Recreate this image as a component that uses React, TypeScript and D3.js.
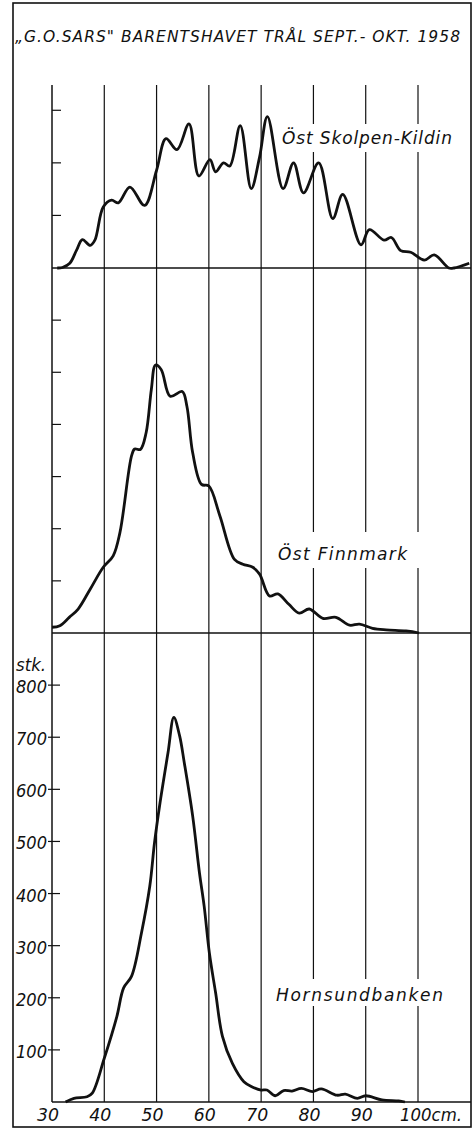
import * as d3 from "d3";
import React from "react";

// length classes (cm) and counts (stk.)
const skolpenCm = [31, 32, 33.4, 34.7, 35.8, 37.3, 38.2, 39.8, 41.4, 42.7, 44.9, 47.7, 50.0, 51.8, 53.9, 56.2, 58.1, 60.2, 61.3, 62.8, 64.0, 66.0, 68.1, 69.7, 71.2, 74.2, 76.2, 78.1, 81.0, 83.7, 85.6, 89.1, 90.7, 93.5, 94.9, 96.7, 98.6, 101.2, 103.1, 105.9, 106.9, 109.8];
const skolpenStk = [0, 1, 9, 34, 54, 43, 53, 116, 129, 124, 154, 119, 186, 246, 225, 274, 175, 206, 183, 200, 194, 271, 151, 211, 288, 151, 200, 143, 200, 94, 140, 44, 73, 53, 58, 33, 30, 15, 25, 0, 0, 9];

const finnmarkCm = [30, 31.5, 33.3, 35.0, 37.3, 39.8, 41.7, 43.0, 45.2, 45.8, 46.9, 48.0, 49.0, 49.8, 50.9, 52.6, 54.9, 55.8, 56.9, 58.6, 60.0, 62.1, 64.9, 66.5, 68.4, 69.7, 71.6, 73.2, 75.3, 77.3, 79.2, 81.8, 84.3, 86.9, 88.8, 91.3, 93.9, 97.7, 100.2];
const finnmarkStk = [11, 14, 30, 46, 84, 126, 148, 193, 339, 353, 352, 384, 467, 514, 505, 454, 463, 435, 346, 285, 282, 225, 141, 132, 126, 113, 71, 75, 55, 38, 46, 28, 30, 15, 17, 9, 6, 4, 0];

const hornsundCm = [32.6, 34.2, 36.7, 37.7, 40.0, 42.4, 43.7, 45.2, 47.1, 48.7, 49.6, 50.6, 52.2, 53.3, 54.4, 55.3, 56.9, 58.2, 59.1, 60.1, 61.3, 62.6, 64.5, 66.7, 68.3, 70.0, 71.1, 72.7, 74.3, 75.9, 77.7, 79.8, 81.5, 84.5, 86.1, 88.4, 90.0, 93.1, 96.3, 97.5];
const hornsundStk = [0, 7, 10, 17, 84, 164, 219, 241, 324, 414, 497, 570, 671, 738, 703, 651, 549, 440, 376, 286, 209, 126, 74, 39, 29, 23, 23, 12, 22, 21, 26, 20, 25, 13, 15, 7, 12, 4, 2, 0];

const gridCm = [40, 50, 60, 70, 80, 90, 100];
const xTickLabels = ["30", "40", "50", "60", "70", "80", "90"];
const xTickValues = [30, 40, 50, 60, 70, 80, 90];
const topTicks = [100, 200, 300];
const midTicks = [100, 200, 300, 400, 500, 600];
const botTicks = [100, 200, 300, 400, 500, 600, 700, 800];

const title = "\u201eG.O.SARS\" BARENTSHAVET TR\u00c5L SEPT.- OKT. 1958";
const font = "'DejaVu Sans', sans-serif";
const ink = "#111";

export default function App() {
  const W = 472;
  const H = 1128;
  const x = d3.scaleLinear().domain([30, 100]).range([52, 418]);
  const right = 471;

  const yTop = d3.scaleLinear().domain([0, 350]).range([268, 84]);
  const yMid = d3.scaleLinear().domain([0, 700]).range([633, 268]);
  const yBot = d3.scaleLinear().domain([0, 900]).range([1102, 633]);

  const mkLine = (y: d3.ScaleLinear<number, number>) =>
    d3.line<[number, number]>()
      .x(d => x(d[0]))
      .y(d => y(d[1]))
      .curve(d3.curveCatmullRom.alpha(0.5));

  const topPath = mkLine(yTop)(d3.zip(skolpenCm, skolpenStk) as [number, number][]);
  const midPath = mkLine(yMid)(d3.zip(finnmarkCm, finnmarkStk) as [number, number][]);
  const botPath = mkLine(yBot)(d3.zip(hornsundCm, hornsundStk) as [number, number][]);

  // white boxes behind the panel names (they cut the grid lines)
  const labels = [
    { text: "\u00d6st Skolpen-Kildin", x: 282, y: 144, len: 170, box: [278, 124, 180, 28] },
    { text: "\u00d6st Finnmark", x: 278, y: 560, len: 129, box: [270, 532, 154, 36] },
    { text: "Hornsundbanken", x: 276, y: 1001, len: 167, box: [270, 979, 178, 27] },
  ];

  return (
    <svg width={W} height={H} style={{ position: "absolute", left: 0, top: 0, background: "#fff" }}>
      <rect x={0} y={0} width={W} height={H} fill="#fff" />
      {/* outer frame */}
      <rect x={13} y={3} width={right - 13} height={1127 - 3} fill="none" stroke={ink} strokeWidth={1.6} />

      <text x={15} y={42} fontFamily={font} fontStyle="italic" fontSize={15.5} fill={ink}
        textLength={445} lengthAdjust="spacing">{title}</text>

      {/* vertical grid lines */}
      <line x1={x(30)} x2={x(30)} y1={85} y2={1102} stroke={ink} strokeWidth={1.5} />
      {gridCm.map(c => (
        <line key={c} x1={x(c)} x2={x(c)} y1={85} y2={1102} stroke={ink} strokeWidth={1.2} />
      ))}

      {/* panel baselines */}
      {[yTop(0), yMid(0), yBot(0)].map((b, i) => (
        <line key={i} x1={x(30)} x2={right} y1={b} y2={b} stroke={ink} strokeWidth={1.5} />
      ))}

      {/* y ticks */}
      {topTicks.map(t => (
        <line key={"t" + t} x1={x(30)} x2={x(30) + 9} y1={yTop(t)} y2={yTop(t)} stroke={ink} strokeWidth={1.2} />
      ))}
      {midTicks.map(t => (
        <line key={"m" + t} x1={x(30)} x2={x(30) + 9} y1={yMid(t)} y2={yMid(t)} stroke={ink} strokeWidth={1.2} />
      ))}
      {botTicks.map(t => (
        <g key={"b" + t}>
          <line x1={x(30) - 4} x2={x(30) + 8} y1={yBot(t)} y2={yBot(t)} stroke={ink} strokeWidth={1.2} />
          <text x={16} y={yBot(t) + 8} fontFamily={font} fontStyle="italic"
            fontSize={18} fill={ink} textLength={31} lengthAdjust="spacingAndGlyphs">{t}</text>
        </g>
      ))}
      <text x={16} y={671} fontFamily={font} fontStyle="italic" fontSize={17} fill={ink}
        textLength={30} lengthAdjust="spacingAndGlyphs">stk.</text>

      {/* x labels */}
      {xTickValues.map((v, i) => (
        <text key={v} x={x(v) - 4} y={1121} textAnchor="middle" fontFamily={font} fontStyle="italic"
          fontSize={17} fill={ink} textLength={22} lengthAdjust="spacingAndGlyphs">{xTickLabels[i]}</text>
      ))}
      <text x={400} y={1121} fontFamily={font} fontStyle="italic" fontSize={17} fill={ink}
        textLength={62} lengthAdjust="spacingAndGlyphs">100cm.</text>

      {/* panel names */}
      {labels.map(l => (
        <g key={l.text}>
          <rect x={l.box[0]} y={l.box[1]} width={l.box[2]} height={l.box[3]} fill="#fff" />
          <text x={l.x} y={l.y} fontFamily={font} fontStyle="italic" fontSize={17} fill={ink}
            textLength={l.len} lengthAdjust="spacing">{l.text}</text>
        </g>
      ))}

      {/* curves */}
      <path d={topPath ?? ""} fill="none" stroke={ink} strokeWidth={2.8} strokeLinejoin="round" />
      <path d={midPath ?? ""} fill="none" stroke={ink} strokeWidth={2.8} strokeLinejoin="round" />
      <path d={botPath ?? ""} fill="none" stroke={ink} strokeWidth={2.8} strokeLinejoin="round" />
    </svg>
  );
}
